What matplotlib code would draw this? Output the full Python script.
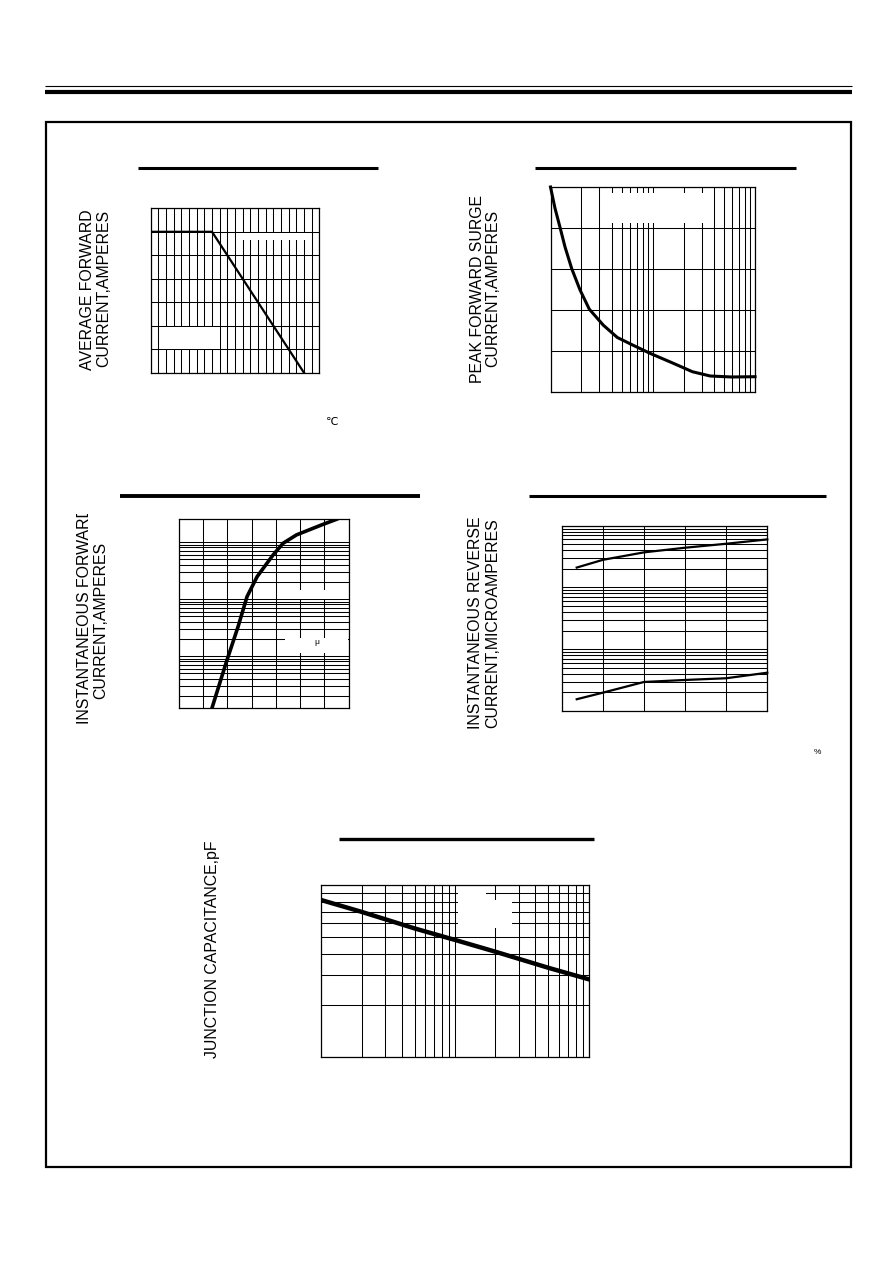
import numpy as np
import matplotlib
matplotlib.use("Agg")
import matplotlib.pyplot as plt
from matplotlib.ticker import FixedLocator
from matplotlib.patches import Rectangle
from matplotlib.lines import Line2D
from matplotlib.transforms import Bbox

W, H = 892, 1263                       # page size in pixels (dpi 100)

#-----------------------------------------------------#
# data

# fig.1 forward current derating
temp_c = [0, 80, 200]
avg_amps = [3.0, 3.0, 0.0]

# fig.2 peak forward surge current
surge_cycles = [1.0, 1.107, 1.238, 1.386, 1.612, 1.944, 2.396, 3.284, 4.501, 6.31, 9.40, 15.9, 24.4, 36.5, 59.2, 100]
surge_amps = [50, 44.8, 40.2, 35.4, 30.1, 24.9, 20.2, 16.3, 13.3, 11.5, 9.44, 7.0, 4.95, 3.9, 3.66, 3.73]

# fig.3 forward characteristics
fwd_volts = [0.676, 0.792, 0.888, 0.962, 1.045, 1.177, 1.260, 1.370, 1.577, 1.701]
fwd_amps = [0.0129, 0.0794, 0.327, 1.10, 2.46, 5.92, 9.49, 13.3, 19.9, 25.0]

# fig.4 reverse characteristics (percent of rated voltage)
rev_pct = [7.3, 20, 40, 60, 80, 100]
rev_hot_ua = [21, 28, 37, 44, 51, 60]
rev_cold_ua = [0.155, 0.198, 0.295, 0.318, 0.339, 0.417]

# fig.5 junction capacitance
cap_volts = [1, 2, 5, 10, 20, 50, 100]
cap_pf = [82, 70, 56, 48, 41, 33, 28.3]

FONT = ["Liberation Sans", "DejaVu Sans"]

#-----------------------------------------------------#

def fx(x):
    return x / W

def fy(y):
    return 1 - y / H

def px_axes(fig, left, top, right, bottom):
    return fig.add_axes([fx(left), fy(bottom), (right - left) / W, (bottom - top) / H])

def style_axes(ax):
    for s in ax.spines.values():
        s.set_linewidth(0.9)
        s.set_color("black")
    ax.tick_params(which="both", length=0, labelbottom=False, labelleft=False)
    ax.set_axisbelow(True)

def grid_on(ax, xminor=False, yminor=False):
    ax.grid(True, which="major", color="black", linewidth=0.75)
    if xminor:
        ax.xaxis.grid(True, which="minor", color="black", linewidth=0.75)
    if yminor:
        ax.yaxis.grid(True, which="minor", color="black", linewidth=0.75)

def hline(fig, x0, x1, y, lw):
    fig.add_artist(Line2D([fx(x0), fx(x1)], [fy(y), fy(y)], color="black",
                          linewidth=lw, solid_capstyle="butt", transform=fig.transFigure))

def blank(fig, left, top, right, bottom):
    fig.add_artist(Rectangle((fx(left), fy(bottom)), (right - left) / W, (bottom - top) / H,
                             facecolor="white", edgecolor="none", transform=fig.transFigure, zorder=5))

def vlabel(fig, x, y, s, size=11.4):
    return fig.text(fx(x), fy(y), s, rotation=90, ha="center", va="center",
                    fontsize=size, family=FONT, color="black")

#-----------------------------------------------------#

fig = plt.figure(figsize=(W / 100, H / 100), dpi=100)
fig.patch.set_facecolor("white")

# page header rules and frame
hline(fig, 45, 852, 86, 0.8)
hline(fig, 45, 852, 92, 3.0)
fig.add_artist(Rectangle((fx(46), fy(1167)), (851 - 46) / W, (1167 - 122) / H, fill=False,
                         edgecolor="black", linewidth=1.6, transform=fig.transFigure))

# title bars (titles themselves are blank in the source)
hline(fig, 138, 378, 167.5, 2.2)
hline(fig, 535, 796, 167.5, 2.2)
hline(fig, 120, 420, 496, 2.8)
hline(fig, 529, 826, 496, 2.2)
hline(fig, 339, 594, 838.5, 2.4)

# fig.1
ax1 = px_axes(fig, 150.7, 208.3, 319.3, 372.7)
ax1.set_xlim(0, 220)
ax1.set_ylim(0, 3.5)
ax1.set_xticks(np.arange(0, 221, 10))
ax1.set_yticks(np.arange(0, 3.51, 0.5))
style_axes(ax1)
grid_on(ax1)
ax1.plot(temp_c, avg_amps, color="black", linewidth=1.6)

# fig.2
ax2 = px_axes(fig, 550.5, 187, 755, 392)
ax2.set_xscale("log")
ax2.set_xlim(1, 100)
ax2.set_ylim(0, 50)
ax2.set_yticks(np.arange(0, 51, 10))
style_axes(ax2)
grid_on(ax2, xminor=True)
ax2.plot(surge_cycles, surge_amps, color="black", linewidth=2.2, clip_on=False)

# fig.3
ax3 = px_axes(fig, 179, 519.3, 348.5, 708)
ax3.set_yscale("log")
ax3.set_xlim(0.4, 1.8)
ax3.set_ylim(0.0122, 25)
ax3.set_xticks(np.arange(0.4, 1.81, 0.2))
ax3.yaxis.set_major_locator(FixedLocator([0.1, 1, 10]))
ax3.yaxis.set_minor_locator(FixedLocator([k * 10.0 ** e for e in (-2, -1, 0) for k in range(2, 10)]))
style_axes(ax3)
grid_on(ax3, yminor=True)
ax3.plot(fwd_volts, fwd_amps, color="black", linewidth=2.6)

# fig.4
ax4 = px_axes(fig, 561.7, 525.7, 767.3, 711)
ax4.set_yscale("log")
ax4.set_xlim(0, 100)
ax4.set_ylim(0.1, 100)
ax4.set_xticks(np.arange(0, 101, 20))
style_axes(ax4)
grid_on(ax4, yminor=True)
ax4.plot(rev_pct, rev_hot_ua, color="black", linewidth=1.6, clip_on=False)
ax4.plot(rev_pct, rev_cold_ua, color="black", linewidth=1.6, clip_on=False)

# fig.5
ax5 = px_axes(fig, 321.3, 885.3, 588.7, 1056.7)
ax5.set_xscale("log")
ax5.set_yscale("log")
ax5.set_xlim(1, 100)
ax5.set_ylim(10, 100)
style_axes(ax5)
grid_on(ax5, xminor=True, yminor=True)
ax5.plot(cap_volts, cap_pf, color="black", linewidth=3.2)

# blanked legend areas
blank(fig, 236, 233.2, 310, 240)
blank(fig, 160, 327.5, 219.5, 348.5)
blank(fig, 608, 193, 713, 223)
blank(fig, 280, 590, 347.5, 598.6)
blank(fig, 285, 638, 347.5, 653)
blank(fig, 458.5, 900, 512, 928)
blank(fig, 458.5, 892, 486.5, 901)

# y labels
vlabel(fig, 87.5, 290, "AVERAGE FORWARD")
vlabel(fig, 104, 288, "CURRENT,AMPERES")
vlabel(fig, 477, 289, "PEAK FORWARD SURGE")
vlabel(fig, 492.5, 288, "CURRENT,AMPERES")
t = vlabel(fig, 84.7, 615, "INSTANTANEOUS FORWARD")
t.set_clip_box(Bbox([[0, 0], [W, H - 514]]))
t.set_clip_on(True)
vlabel(fig, 100.8, 620, "CURRENT,AMPERES")
vlabel(fig, 476, 622.5, "INSTANTANEOUS REVERSE")
vlabel(fig, 492.5, 623, "CURRENT,MICROAMPERES")
vlabel(fig, 213, 949, "JUNCTION CAPACITANCE,pF")

# stray glyphs left over in the source
fig.text(fx(332), fy(422), "\u2103", ha="center", va="center", fontsize=8, family=FONT)
fig.text(fx(316.7), fy(642), "\u03bc", ha="center", va="center", fontsize=6, family=FONT, zorder=6)
fig.text(fx(817), fy(753), "%", ha="center", va="center", fontsize=6, family=FONT)

fig.savefig("out.png", dpi=100, facecolor="white")
